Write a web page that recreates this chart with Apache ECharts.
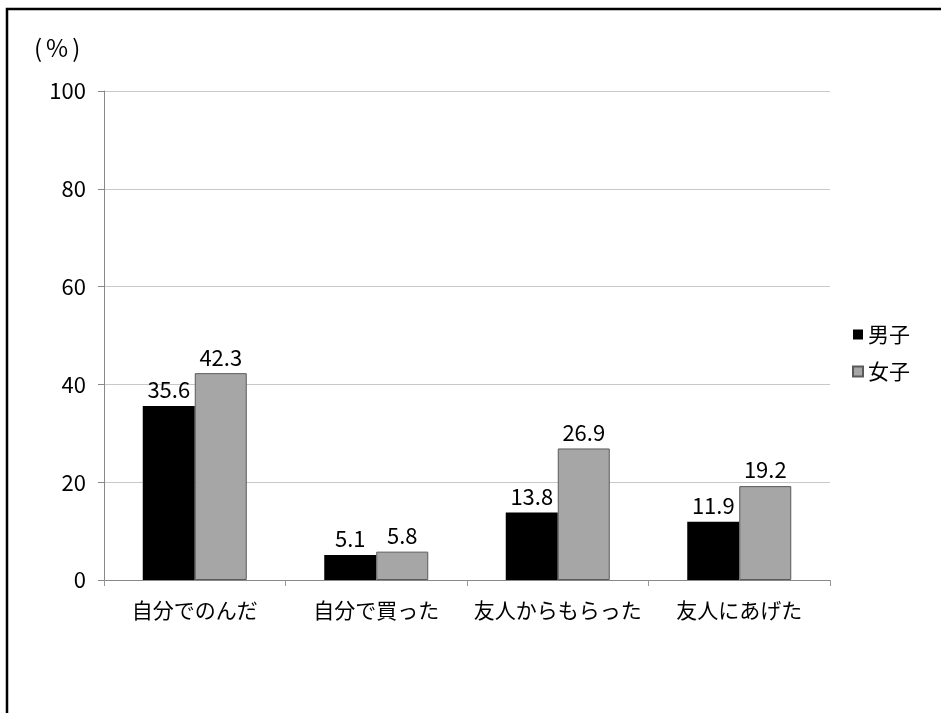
<!DOCTYPE html>
<html>
<head>
<meta charset="utf-8">
<script src="https://cdn.jsdelivr.net/npm/echarts@6/dist/echarts.min.js"></script>
<style>
  html, body { margin: 0; padding: 0; background: #fff; }
  #chart { width: 941px; height: 713px; }
</style>
</head>
<body>
<div id="chart"></div>
<script>
const categories = ['自分でのんだ', '自分で買った', '友人からもらった', '友人にあげた'];
const boys = [35.6, 5.1, 13.8, 11.9];
const girls = [42.3, 5.8, 26.9, 19.2];
const yTicks = [0, 20, 40, 60, 80, 100];

const FONT = '"Noto Sans CJK JP", "Noto Sans", sans-serif';
const chart = echarts.init(document.getElementById('chart'));

chart.setOption({
  animation: false,
  backgroundColor: '#fff',
  textStyle: { fontFamily: FONT },
  graphic: [
    {
      type: 'rect',
      shape: { x: 7, y: 9, width: 1000, height: 1000 },
      style: { fill: 'none', stroke: '#000', lineWidth: 2.5 },
      silent: true
    },
    {
      type: 'text',
      left: 34,
      top: 36,
      style: {
        text: '{p|(}{q|%}{p|)}',
        rich: {
          p: { fontSize: 24, fontFamily: FONT, fill: '#000', padding: [0, 4, 0, 4] },
          q: { fontSize: 24, fontFamily: FONT, fill: '#000' }
        }
      }
    }
  ],
  legend: {
    orient: 'vertical',
    left: 847,
    top: 319,
    itemWidth: 10,
    itemHeight: 10,
    itemGap: 16,
    icon: 'rect',
    textStyle: { fontSize: 21, color: '#000', fontFamily: FONT },
    data: ['男子', '女子']
  },
  grid: { left: 104, top: 91, width: 726, height: 489 },
  xAxis: {
    type: 'category',
    data: categories,
    axisLine: { lineStyle: { color: '#888' } },
    axisTick: { show: true, length: 6, lineStyle: { color: '#999' } },
    axisLabel: { fontSize: 21, color: '#000', margin: 20, interval: 0, fontFamily: FONT }
  },
  yAxis: {
    type: 'value',
    min: yTicks[0],
    max: yTicks[yTicks.length - 1],
    interval: 20,
    axisLine: { show: true, lineStyle: { color: '#888' } },
    axisTick: { show: true, length: 6, lineStyle: { color: '#888' } },
    axisLabel: { fontSize: 22, color: '#000', margin: 18, fontFamily: FONT },
    splitLine: { lineStyle: { color: '#c8c8c8' } }
  },
  series: [
    {
      name: '男子',
      type: 'bar',
      data: boys,
      barWidth: 52,
      barGap: '0%',
      itemStyle: { color: '#000' },
      label: { show: true, position: 'top', fontSize: 22, color: '#000', distance: 5, fontFamily: FONT }
    },
    {
      name: '女子',
      type: 'bar',
      data: girls,
      barWidth: 52,
      itemStyle: { color: '#a6a6a6', borderColor: '#5a5a5a', borderWidth: 1 },
      label: { show: true, position: 'top', fontSize: 22, color: '#000', distance: 5, fontFamily: FONT }
    }
  ]
});
</script>
</body>
</html>
